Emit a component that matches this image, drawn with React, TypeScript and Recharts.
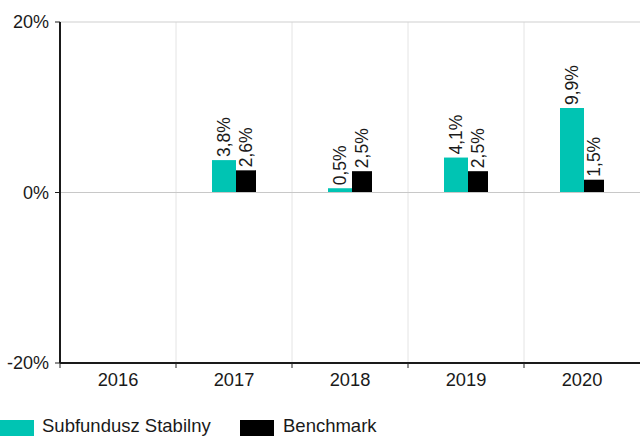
import React from 'react';
import {
  BarChart,
  Bar,
  XAxis,
  YAxis,
  CartesianGrid,
  Legend,
  LabelList,
  ReferenceLine,
} from 'recharts';

const years = ['2016', '2017', '2018', '2019', '2020'];
const fund = [null, 3.8, 0.5, 4.1, 9.9];
const benchmark = [null, 2.6, 2.5, 2.5, 1.5];
const yTicks = [-20, 0, 20];

const TEAL = '#00c4b3';
const FONT = '"Liberation Sans", Arial, sans-serif';

const data = years.map((year, i) => ({
  year,
  fund: fund[i],
  benchmark: benchmark[i],
}));

const fmt = (v: number) => v.toFixed(1).replace('.', ',') + '%';

// rotated value label sitting on top of each bar
const VerticalLabel = (props: any) => {
  const { x, y, width, value } = props;
  if (value == null) return null;
  const cx = x + width / 2;
  const top = y - 3;
  return (
    <text
      x={cx}
      y={top}
      transform={`rotate(-90, ${cx}, ${top})`}
      textAnchor="start"
      dominantBaseline="central"
      fontSize={17.5}
      fontFamily={FONT}
      fill="#1a1a1a"
    >
      {fmt(value)}
    </text>
  );
};

// category label plus tick mark on the left band edge
const YearTick = (props: any) => {
  const { x, y, payload } = props;
  const band = 580 / years.length;
  const left = x - band / 2;
  return (
    <g>
      <line x1={left} y1={y - 8} x2={left} y2={y - 3} stroke="#222" strokeWidth={1} />
      <text
        x={x}
        y={y + 8}
        textAnchor="middle"
        dominantBaseline="central"
        fontSize={18.3}
        fontFamily={FONT}
        fill="#1a1a1a"
      >
        {payload.value}
      </text>
    </g>
  );
};

const LegendContent = () => (
  <div style={{ position: 'relative', height: 33, fontFamily: FONT, fontSize: 18.5, color: '#1a1a1a' }}>
    <div style={{ position: 'absolute', left: 0, top: 17, width: 34, height: 16, background: TEAL }} />
    <span style={{ position: 'absolute', left: 42, top: 12, lineHeight: '21px', whiteSpace: 'nowrap' }}>Subfundusz Stabilny</span>
    <div style={{ position: 'absolute', left: 240, top: 17, width: 34, height: 16, background: '#000' }} />
    <span style={{ position: 'absolute', left: 283, top: 12, lineHeight: '21px', whiteSpace: 'nowrap' }}>Benchmark</span>
  </div>
);

export default function App() {
  return (
    <div style={{ position: 'absolute', left: 0, top: 0, width: 640, height: 436, background: '#fff' }}>
      <BarChart
        width={640}
        height={436}
        data={data}
        margin={{ top: 22, right: 0, bottom: 0, left: 0 }}
        barGap={0}
        barCategoryGap="30%"
      >
        <CartesianGrid
          stroke="#e4e4e4"
          horizontal={false}
          verticalCoordinatesGenerator={({ offset }: any) =>
            years.slice(1).map((_, i) => offset.left + ((i + 1) * offset.width) / years.length)
          }
        />
        <ReferenceLine y={20} stroke="#cfcfcf" />
        <ReferenceLine y={0} stroke="#c8c8c8" />
        <XAxis
          dataKey="year"
          height={40}
          tick={<YearTick />}
          tickLine={false}
          axisLine={{ stroke: '#1a1a1a', strokeWidth: 2 }}
          interval={0}
        />
        <YAxis
          width={60}
          domain={[-20, 20]}
          ticks={yTicks}
          allowDataOverflow
          tickFormatter={(v: number) => `${v}%`}
          tick={{ fontSize: 18, fontFamily: FONT, fill: '#1a1a1a' }}
          tickLine={{ stroke: '#1a1a1a' }}
          tickSize={5}
          tickMargin={6}
          axisLine={{ stroke: '#1a1a1a', strokeWidth: 2 }}
        />
        <Legend verticalAlign="bottom" height={33} content={<LegendContent />} />
        <Bar dataKey="fund" fill={TEAL} barSize={24} isAnimationActive={false}>
          <LabelList dataKey="fund" content={<VerticalLabel />} />
        </Bar>
        <Bar dataKey="benchmark" fill="#000" barSize={20} isAnimationActive={false}>
          <LabelList dataKey="benchmark" content={<VerticalLabel />} />
        </Bar>
      </BarChart>
    </div>
  );
}
